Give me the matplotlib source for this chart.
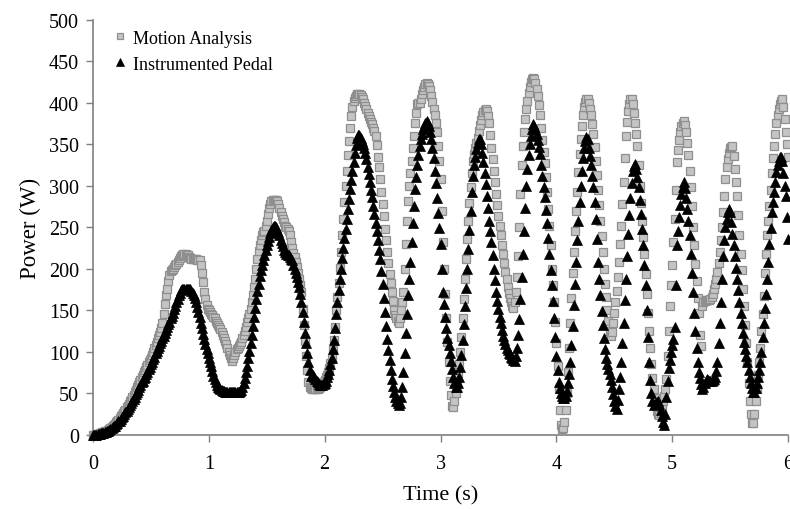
import numpy as np
import matplotlib
matplotlib.use("Agg")
import matplotlib.pyplot as plt

plt.rcParams['font.family'] = ['Liberation Serif', 'DejaVu Serif']

# sampling interval of the recorded series (s)
dt = 0.01

motion_analysis = [
    0, 0, 0, 1, 1, 1, 2, 2, 3, 3,
    4, 4, 5, 6, 7, 8, 9, 10, 12, 13,
    15, 16, 18, 20, 22, 24, 26, 28, 30, 33,
    35, 37, 40, 42, 45, 48, 51, 54, 57, 60,
    63, 66, 69, 72, 75, 78, 81, 84, 87, 90,
    93, 96, 100, 104, 108, 112, 116, 120, 124, 128,
    135, 146, 158, 168, 176, 185, 192, 197, 199, 200,
    202, 204, 206, 208, 210, 213, 215, 217, 218, 218,
    218, 217, 216, 214, 213, 212, 212, 212, 212, 212,
    211, 211, 210, 204, 195, 184, 172, 163, 156, 152,
    150, 148, 146, 144, 142, 140, 137, 135, 132, 130,
    127, 124, 120, 117, 113, 109, 105, 100, 96, 92,
    89, 93, 96, 100, 103, 105, 107, 109, 112, 116,
    120, 125, 130, 136, 141, 146, 152, 160, 168, 178,
    188, 200, 212, 221, 229, 235, 240, 244, 246, 251,
    258, 266, 273, 278, 281, 283, 283, 283, 283, 281,
    278, 273, 268, 264, 260, 256, 252, 250, 248, 245,
    240, 232, 225, 219, 214, 208, 202, 195, 188, 180,
    172, 152, 132, 113, 95, 78, 63, 58, 56, 55,
    55, 55, 55, 55, 55, 56, 58, 60, 62, 64,
    66, 69, 72, 76, 80, 86, 92, 102, 114, 130,
    150, 166, 183, 201, 220, 240, 260, 280, 300, 318,
    337, 354, 370, 384, 395, 402, 406, 408, 410, 410,
    410, 409, 407, 404, 400, 396, 392, 388, 384, 380,
    377, 374, 370, 366, 360, 349, 335, 322, 308, 293,
    278, 263, 248, 234, 220, 207, 194, 183, 172, 161,
    150, 144, 140, 137, 135, 140, 150, 160, 172, 200,
    230, 258, 282, 300, 315, 330, 345, 360, 375, 388,
    398, 400, 400, 405, 410, 415, 419, 422, 424, 423,
    420, 415, 408, 401, 393, 385, 376, 365, 348, 330,
    308, 270, 232, 200, 170, 140, 112, 87, 65, 48,
    35, 33, 40, 50, 62, 73, 85, 100, 118, 140,
    163, 188, 212, 236, 258, 279, 298, 315, 330, 338,
    345, 352, 358, 366, 373, 379, 385, 389, 391, 392,
    390, 384, 375, 361, 346, 332, 318, 304, 290, 277,
    264, 252, 240, 229, 218, 207, 196, 187, 178, 171,
    165, 160, 155, 153, 160, 172, 190, 215, 250, 290,
    325, 348, 365, 380, 392, 402, 412, 419, 425, 428,
    430, 428, 424, 417, 408, 397, 385, 370, 355, 341,
    327, 310, 292, 272, 252, 228, 200, 180, 160, 136,
    111, 83, 55, 30, 12, 7, 8, 15, 30, 50,
    75, 104, 135, 165, 195, 220, 245, 269, 293, 316,
    338, 356, 372, 385, 395, 401, 404, 404, 400, 393,
    385, 374, 362, 347, 330, 313, 295, 277, 258, 239,
    220, 200, 182, 166, 150, 137, 125, 119, 124, 135,
    147, 160, 173, 190, 208, 230, 252, 278, 305, 333,
    360, 377, 390, 399, 405, 404, 398, 388, 375, 362,
    348, 325, 300, 279, 258, 238, 218, 194, 170, 147,
    125, 105, 85, 68, 55, 44, 35, 29, 25, 24,
    26, 32, 40, 47, 55, 67, 95, 125, 155, 180,
    205, 232, 260, 295, 328, 343, 355, 365, 372, 376,
    378, 373, 365, 352, 337, 318, 298, 275, 250, 228,
    206, 185, 165, 147, 120, 107, 155, 160, 161, 162,
    162, 162, 162, 163, 166, 170, 175, 181, 188, 196,
    207, 220, 234, 250, 268, 288, 308, 322, 332, 340,
    345, 347, 348, 336, 320, 305, 288, 265, 240, 218,
    198, 176, 155, 132, 110, 87, 62, 40, 25, 14,
    14, 25, 40, 55, 72, 87, 105, 125, 145, 167,
    195, 218, 240, 258, 275, 295, 315, 333, 348, 362,
    375, 385, 392, 398, 402, 404, 395, 380, 365, 350,
    335,
]

instrumented_pedal = [
    0, 0, 0, 0, 1, 1, 1, 2, 2, 2,
    3, 3, 4, 5, 6, 7, 8, 9, 10, 11,
    13, 14, 16, 17, 19, 21, 23, 25, 27, 29,
    31, 33, 36, 38, 41, 43, 46, 49, 52, 54,
    57, 60, 63, 65, 68, 70, 73, 76, 79, 82,
    85, 88, 91, 94, 98, 101, 104, 107, 110, 113,
    116, 119, 123, 126, 130, 133, 136, 140, 143, 147,
    151, 155, 160, 164, 168, 171, 174, 175, 176, 176,
    176, 176, 176, 176, 175, 173, 171, 168, 165, 160,
    154, 148, 142, 135, 128, 121, 115, 109, 103, 98,
    93, 88, 83, 77, 71, 67, 63, 60, 58, 56,
    55, 54, 53, 53, 52, 52, 52, 51, 51, 51,
    51, 51, 51, 51, 51, 51, 52, 53, 54, 57,
    62, 68, 75, 83, 92, 101, 110, 120, 131, 142,
    153, 163, 173, 182, 191, 198, 205, 211, 217, 223,
    228, 233, 238, 243, 247, 250, 252, 252, 250, 247,
    244, 240, 235, 231, 227, 223, 220, 218, 217, 216,
    214, 212, 210, 205, 200, 195, 190, 184, 178, 170,
    160, 148, 136, 123, 110, 98, 87, 78, 71, 72,
    72, 70, 67, 65, 63, 61, 60, 60, 60, 61,
    62, 65, 69, 73, 78, 85, 93, 103, 114, 128,
    145, 160, 174, 187, 200, 213, 225, 237, 248, 260,
    272, 284, 296, 307, 318, 329, 340, 349, 357, 361,
    361, 358, 354, 350, 345, 339, 332, 323, 314, 305,
    295, 286, 276, 266, 255, 245, 234, 223, 212, 197,
    182, 165, 148, 131, 115, 102, 90, 78, 67, 59,
    52, 46, 41, 38, 36, 38, 45, 58, 75, 98,
    122, 145, 168, 188, 208, 232, 255, 276, 296, 311,
    325, 337, 348, 356, 362, 368, 372, 375, 378, 376,
    372, 365, 356, 345, 333, 318, 303, 285, 267, 249,
    230, 200, 172, 157, 142, 129, 117, 108, 99, 89,
    79, 70, 62, 58, 57, 62, 70, 82, 96, 114,
    133, 155, 177, 200, 224, 247, 270, 292, 312, 325,
    335, 344, 352, 356, 356, 350, 340, 328, 315, 302,
    288, 273, 258, 245, 232, 216, 200, 186, 172, 161,
    151, 142, 134, 126, 119, 114, 109, 105, 102, 99,
    97, 94, 92, 90, 89, 95, 105, 120, 139, 163,
    190, 218, 245, 273, 300, 320, 337, 350, 360, 368,
    374, 372, 368, 362, 355, 347, 338, 325, 312, 299,
    286, 271, 255, 237, 218, 199, 180, 161, 141, 118,
    95, 78, 64, 56, 50, 47, 44, 44, 47, 53,
    62, 73, 88, 108, 131, 156, 182, 208, 234, 258,
    280, 300, 318, 333, 345, 354, 359, 356, 345, 336,
    325, 312, 298, 280, 260, 236, 208, 187, 168, 149,
    132, 117, 103, 93, 85, 79, 73, 66, 58, 49,
    40, 34, 31, 42, 55, 70, 87, 110, 135, 162,
    188, 215, 242, 265, 285, 303, 318, 324, 326, 320,
    310, 298, 283, 266, 248, 228, 205, 180, 150, 118,
    87, 66, 50, 41, 36, 37, 38, 39, 40, 37,
    30, 22, 15, 12, 25, 45, 65, 80, 90, 100,
    108, 115, 130, 180, 228, 245, 262, 277, 290, 299,
    304, 297, 285, 272, 258, 240, 218, 195, 172, 147,
    125, 105, 88, 75, 68, 61, 55, 58, 62, 65,
    67, 66, 65, 65, 65, 66, 67, 70, 77, 87,
    110, 135, 160, 188, 215, 235, 250, 260, 268, 272,
    268, 256, 242, 228, 215, 201, 188, 174, 160, 147,
    135, 123, 112, 103, 95, 87, 78, 70, 62, 56,
    52, 51, 56, 62, 70, 78, 87, 100, 118, 135,
    153, 170, 188, 208, 230, 249, 268, 280, 292, 305,
    316, 325, 330, 334, 335, 330, 315, 300, 288, 262,
    236,
]

series_names = ["Motion Analysis", "Instrumented Pedal"]
x_ticks = [0, 1, 2, 3, 4, 5, 6]
y_ticks = [0, 50, 100, 150, 200, 250, 300, 350, 400, 450, 500]

t_ma = np.arange(len(motion_analysis)) * dt
t_ip = np.arange(len(instrumented_pedal)) * dt

fig = plt.figure(figsize=(7.9, 5.1), dpi=100)
ax = fig.add_axes([0.1177, 0.1457, 0.8798, 0.8137])

ax.plot(t_ma, motion_analysis, linestyle='none', marker='s', markersize=6,
        markerfacecolor='#c4c4c4', markeredgecolor='#8f8f8f', markeredgewidth=0.9,
        label=series_names[0], clip_on=False, zorder=3)
ax.plot(t_ip, instrumented_pedal, linestyle='none', marker='^', markersize=7.3,
        markerfacecolor='black', markeredgecolor='black', markeredgewidth=0.5,
        label=series_names[1], clip_on=False, zorder=4)

ax.set_xlim(0, 6)
ax.set_ylim(0, 500)
ax.set_xticks(x_ticks)
ax.set_yticks(y_ticks)
ax.set_xticklabels([str(v) for v in x_ticks], fontsize=14.5)
ax.set_yticklabels([str(v) for v in y_ticks], fontsize=14.5)
ax.tick_params(axis='both', direction='out', length=5, width=1, color='#808080')
ax.tick_params(axis='x', pad=9)
ax.tick_params(axis='y', pad=5)

for side in ['top', 'right']:
    ax.spines[side].set_visible(False)
for side in ['left', 'bottom']:
    ax.spines[side].set_color('#808080')
    ax.spines[side].set_linewidth(1.2)

ax.set_xlabel("Time (s)", fontsize=16, labelpad=9)
ax.set_ylabel("Power (W)", fontsize=16.5, labelpad=6)

leg = ax.legend(loc='upper left', bbox_to_anchor=(0.005, 1.015), frameon=False, fontsize=13,
                handlelength=0.8, handletextpad=0.3, labelspacing=0.5, markerscale=0.75)

fig.savefig("out.png", dpi=100)
